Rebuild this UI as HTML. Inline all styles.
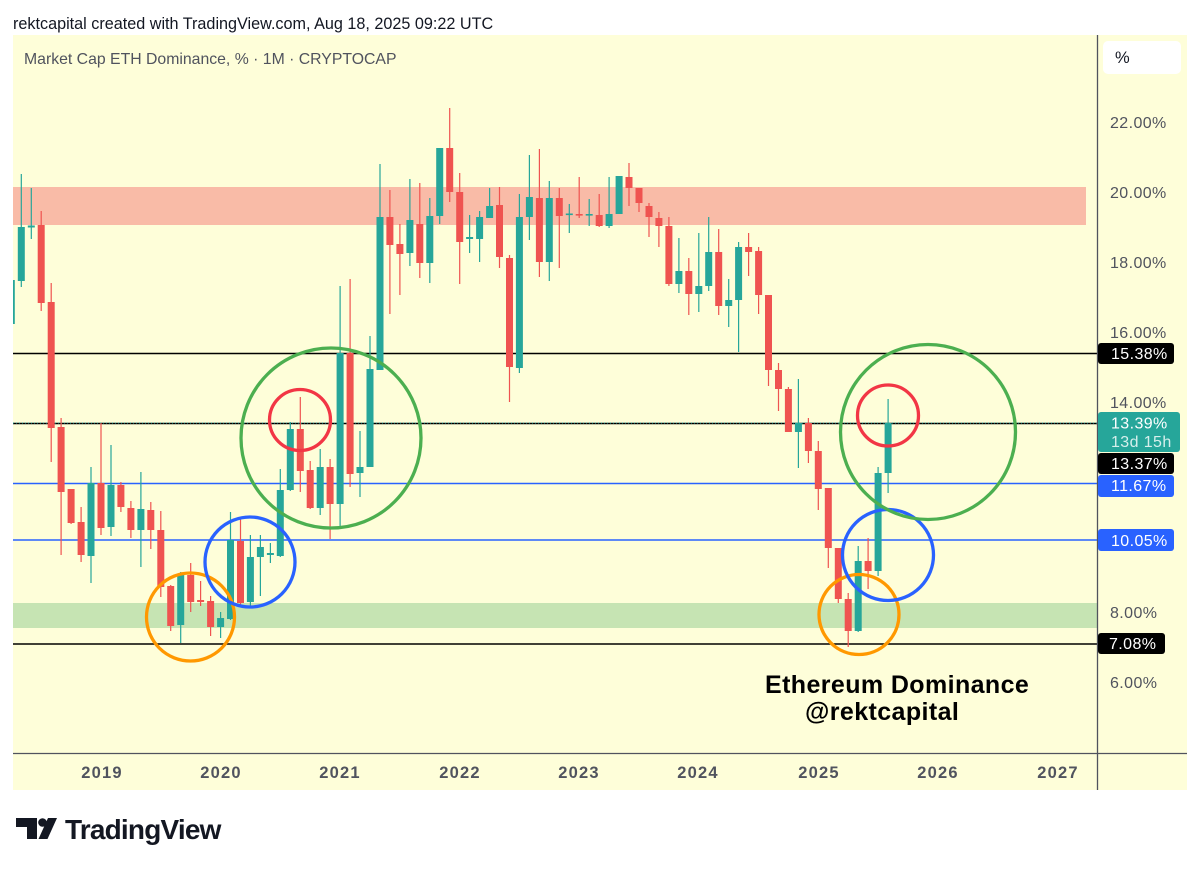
<!DOCTYPE html>
<html><head><meta charset="utf-8"><style>
html,body{margin:0;padding:0;background:#fff;width:1200px;height:869px;overflow:hidden}
svg{position:absolute;left:0;top:0}
</style></head><body>
<svg width="1200" height="869" viewBox="0 0 1200 869" xmlns="http://www.w3.org/2000/svg" font-family="'Liberation Sans', Arial, sans-serif">
<defs><clipPath id="pl"><rect x="13" y="35" width="1084" height="718"/></clipPath></defs>
<text x="13" y="29" font-size="16.2" fill="#131722">rektcapital created with TradingView.com, Aug 18, 2025 09:22 UTC</text>
<rect x="13" y="35" width="1174" height="755" fill="#fefed9"/>
<text x="24" y="64" font-size="15.8" fill="#50535e">Market Cap ETH Dominance, % · 1M · CRYPTOCAP</text>
<g clip-path="url(#pl)">
<rect x="13" y="187" width="1073" height="38" fill="#f9bba7"/>
<rect x="13" y="603" width="1084" height="25" fill="#c6e4b3"/>
<g stroke-width="1.4">
<line x1="13" x2="1097" y1="353.5" y2="353.5" stroke="#000"/>
<line x1="13" x2="1097" y1="423.5" y2="423.5" stroke="#000"/>
<line x1="13" x2="1097" y1="423" y2="423" stroke="#26a69a" stroke-dasharray="1,2" stroke-width="1"/>
<line x1="13" x2="1097" y1="644" y2="644" stroke="#000"/>
<line x1="13" x2="1097" y1="483.5" y2="483.5" stroke="#2962ff"/>
<line x1="13" x2="1097" y1="540" y2="540" stroke="#2962ff"/>
</g>
<g fill="#26a69a">
<rect x="10.7" y="280" width="1.2" height="44"/><rect x="7.8" y="280" width="7" height="44"/>
<rect x="20.7" y="174" width="1.2" height="113"/><rect x="17.8" y="227" width="7" height="54"/>
<rect x="30.7" y="188" width="1.2" height="51"/><rect x="27.8" y="225.5" width="7" height="2"/>
<rect x="90.4" y="467" width="1.2" height="116"/><rect x="87.5" y="483" width="7" height="73"/>
<rect x="110.4" y="445" width="1.2" height="91"/><rect x="107.5" y="485" width="7" height="42"/>
<rect x="140.3" y="472" width="1.2" height="95"/><rect x="137.4" y="509" width="7" height="21"/>
<rect x="180.1" y="572" width="1.2" height="71"/><rect x="177.2" y="574" width="7" height="51"/>
<rect x="220" y="612" width="1.2" height="26"/><rect x="217.1" y="618" width="7" height="9"/>
<rect x="229.9" y="512" width="1.2" height="108"/><rect x="227" y="540" width="7" height="79"/>
<rect x="249.8" y="535" width="1.2" height="72"/><rect x="246.9" y="557" width="7" height="45"/>
<rect x="259.8" y="535" width="1.2" height="61"/><rect x="256.9" y="547" width="7" height="10"/>
<rect x="269.8" y="543" width="1.2" height="20"/><rect x="266.9" y="553" width="7" height="2"/>
<rect x="279.7" y="469" width="1.2" height="88"/><rect x="276.8" y="490" width="7" height="66"/>
<rect x="289.7" y="422" width="1.2" height="69"/><rect x="286.8" y="429" width="7" height="61"/>
<rect x="319.6" y="449" width="1.2" height="66"/><rect x="316.7" y="467" width="7" height="41"/>
<rect x="339.5" y="286" width="1.2" height="241"/><rect x="336.6" y="353" width="7" height="151"/>
<rect x="359.4" y="431" width="1.2" height="66"/><rect x="356.5" y="467" width="7" height="6"/>
<rect x="369.4" y="336" width="1.2" height="131"/><rect x="366.5" y="369" width="7" height="98"/>
<rect x="379.4" y="164" width="1.2" height="206"/><rect x="376.5" y="217" width="7" height="153"/>
<rect x="409.3" y="179" width="1.2" height="87"/><rect x="406.4" y="220" width="7" height="33"/>
<rect x="429.2" y="198" width="1.2" height="85"/><rect x="426.3" y="216" width="7" height="47"/>
<rect x="439.1" y="148" width="1.2" height="76"/><rect x="436.2" y="148" width="7" height="68"/>
<rect x="469" y="215" width="1.2" height="38"/><rect x="466.1" y="237" width="7" height="2"/>
<rect x="479" y="211" width="1.2" height="51"/><rect x="476.1" y="217" width="7" height="22"/>
<rect x="489" y="188" width="1.2" height="30"/><rect x="486.1" y="206" width="7" height="12"/>
<rect x="518.8" y="194" width="1.2" height="179"/><rect x="515.9" y="217" width="7" height="151"/>
<rect x="528.8" y="155" width="1.2" height="85"/><rect x="525.9" y="197" width="7" height="20"/>
<rect x="548.7" y="181" width="1.2" height="100"/><rect x="545.8" y="198" width="7" height="64"/>
<rect x="568.7" y="204" width="1.2" height="29"/><rect x="565.8" y="213.5" width="7" height="1.6"/>
<rect x="588.6" y="199" width="1.2" height="27"/><rect x="585.7" y="214" width="7" height="1.6"/>
<rect x="608.5" y="177" width="1.2" height="51"/><rect x="605.6" y="214" width="7" height="12"/>
<rect x="618.5" y="176" width="1.2" height="38"/><rect x="615.6" y="176" width="7" height="38"/>
<rect x="678.3" y="238" width="1.2" height="55"/><rect x="675.4" y="271" width="7" height="13"/>
<rect x="698.2" y="233" width="1.2" height="79"/><rect x="695.3" y="286" width="7" height="8"/>
<rect x="708.1" y="217" width="1.2" height="74"/><rect x="705.2" y="252" width="7" height="34"/>
<rect x="728.1" y="279" width="1.2" height="48"/><rect x="725.2" y="300" width="7" height="6"/>
<rect x="738" y="242" width="1.2" height="110"/><rect x="735.1" y="247" width="7" height="53"/>
<rect x="797.8" y="379" width="1.2" height="89"/><rect x="794.9" y="423" width="7" height="9"/>
<rect x="857.6" y="546" width="1.2" height="86"/><rect x="854.7" y="561" width="7" height="70"/>
<rect x="877.5" y="467" width="1.2" height="109"/><rect x="874.6" y="473" width="7" height="98"/>
<rect x="887.5" y="399" width="1.2" height="94"/><rect x="884.6" y="423" width="7" height="50"/>
</g>
<g fill="#ef5350">
<rect x="40.6" y="211" width="1.2" height="100"/><rect x="37.7" y="225" width="7" height="78"/>
<rect x="50.6" y="283" width="1.2" height="179"/><rect x="47.7" y="302" width="7" height="126"/>
<rect x="60.5" y="418" width="1.2" height="137"/><rect x="57.6" y="427" width="7" height="65"/>
<rect x="70.5" y="489" width="1.2" height="35"/><rect x="67.6" y="489" width="7" height="34"/>
<rect x="80.5" y="507" width="1.2" height="55"/><rect x="77.6" y="522" width="7" height="33"/>
<rect x="100.4" y="423" width="1.2" height="112"/><rect x="97.5" y="483" width="7" height="45"/>
<rect x="120.3" y="482" width="1.2" height="30"/><rect x="117.4" y="485" width="7" height="22"/>
<rect x="130.3" y="501" width="1.2" height="37"/><rect x="127.4" y="508" width="7" height="22"/>
<rect x="150.2" y="502" width="1.2" height="47"/><rect x="147.3" y="510" width="7" height="20"/>
<rect x="160.2" y="511" width="1.2" height="86"/><rect x="157.3" y="530" width="7" height="57"/>
<rect x="170.1" y="585" width="1.2" height="46"/><rect x="167.2" y="586" width="7" height="40"/>
<rect x="190.1" y="563" width="1.2" height="49"/><rect x="187.2" y="575" width="7" height="27"/>
<rect x="200" y="581" width="1.2" height="25"/><rect x="197.1" y="600" width="7" height="2"/>
<rect x="210" y="596" width="1.2" height="40"/><rect x="207.1" y="601" width="7" height="26"/>
<rect x="239.9" y="518" width="1.2" height="88"/><rect x="237" y="541" width="7" height="62"/>
<rect x="299.7" y="397" width="1.2" height="95"/><rect x="296.8" y="429" width="7" height="42"/>
<rect x="309.6" y="461" width="1.2" height="48"/><rect x="306.7" y="470" width="7" height="38"/>
<rect x="329.5" y="459" width="1.2" height="80"/><rect x="326.6" y="467" width="7" height="37"/>
<rect x="349.5" y="279" width="1.2" height="208"/><rect x="346.6" y="353" width="7" height="121"/>
<rect x="389.3" y="190" width="1.2" height="124"/><rect x="386.4" y="217" width="7" height="28"/>
<rect x="399.3" y="224" width="1.2" height="71"/><rect x="396.4" y="244" width="7" height="10"/>
<rect x="419.2" y="183" width="1.2" height="95"/><rect x="416.3" y="224" width="7" height="39"/>
<rect x="449.1" y="108" width="1.2" height="94"/><rect x="446.2" y="148" width="7" height="44"/>
<rect x="459.1" y="173" width="1.2" height="111"/><rect x="456.2" y="192" width="7" height="50"/>
<rect x="498.9" y="187" width="1.2" height="81"/><rect x="496" y="205" width="7" height="52"/>
<rect x="508.9" y="255" width="1.2" height="147"/><rect x="506" y="258" width="7" height="109"/>
<rect x="538.8" y="149" width="1.2" height="128"/><rect x="535.9" y="198" width="7" height="64"/>
<rect x="558.7" y="188" width="1.2" height="80"/><rect x="555.8" y="198" width="7" height="18"/>
<rect x="578.6" y="177" width="1.2" height="41"/><rect x="575.7" y="214" width="7" height="1.6"/>
<rect x="598.6" y="194" width="1.2" height="33"/><rect x="595.7" y="215" width="7" height="11"/>
<rect x="628.4" y="163" width="1.2" height="43"/><rect x="625.5" y="177" width="7" height="11"/>
<rect x="638.4" y="188" width="1.2" height="24"/><rect x="635.5" y="188" width="7" height="15"/>
<rect x="648.4" y="203" width="1.2" height="34"/><rect x="645.5" y="206" width="7" height="11"/>
<rect x="658.3" y="212" width="1.2" height="35"/><rect x="655.4" y="218" width="7" height="8"/>
<rect x="668.3" y="217" width="1.2" height="69"/><rect x="665.4" y="226" width="7" height="58"/>
<rect x="688.2" y="258" width="1.2" height="57"/><rect x="685.3" y="271" width="7" height="23"/>
<rect x="718.1" y="229" width="1.2" height="86"/><rect x="715.2" y="252" width="7" height="54"/>
<rect x="748" y="233" width="1.2" height="43"/><rect x="745.1" y="247" width="7" height="5"/>
<rect x="758" y="247" width="1.2" height="67"/><rect x="755.1" y="251" width="7" height="44"/>
<rect x="767.9" y="295" width="1.2" height="91"/><rect x="765" y="295" width="7" height="75"/>
<rect x="777.9" y="363" width="1.2" height="48"/><rect x="775" y="370" width="7" height="19"/>
<rect x="787.8" y="387" width="1.2" height="45"/><rect x="784.9" y="389" width="7" height="43"/>
<rect x="807.8" y="418" width="1.2" height="45"/><rect x="804.9" y="423" width="7" height="28"/>
<rect x="817.7" y="441" width="1.2" height="69"/><rect x="814.8" y="451" width="7" height="38"/>
<rect x="827.7" y="488" width="1.2" height="80"/><rect x="824.8" y="488" width="7" height="60"/>
<rect x="837.7" y="548" width="1.2" height="55"/><rect x="834.8" y="548" width="7" height="51"/>
<rect x="847.6" y="593" width="1.2" height="54"/><rect x="844.7" y="599" width="7" height="32"/>
<rect x="867.5" y="538" width="1.2" height="51"/><rect x="864.6" y="561" width="7" height="10"/>
</g>
<g fill="none" stroke-width="3.3">
<circle cx="190.5" cy="617" r="44" stroke="#ff9800"/>
<circle cx="250" cy="562" r="45" stroke="#2962ff"/>
<circle cx="331" cy="438" r="90" stroke="#4caf50"/>
<circle cx="300" cy="420" r="30.5" stroke="#f23645"/>
<circle cx="859" cy="614.5" r="40" stroke="#ff9800"/>
<circle cx="888" cy="555" r="45.5" stroke="#2962ff"/>
<circle cx="928" cy="432" r="87.5" stroke="#4caf50"/>
<circle cx="888" cy="415.5" r="30.5" stroke="#f23645"/>
</g>
<text x="765" y="693" font-size="25" font-weight="bold" letter-spacing="0.4" fill="#000">Ethereum Dominance</text>
<text x="805" y="720" font-size="25" font-weight="bold" letter-spacing="0.4" fill="#000">@rektcapital</text>
</g>
<line x1="1097.5" x2="1097.5" y1="35" y2="790" stroke="#50535e" stroke-width="1.3"/>
<line x1="13" x2="1187" y1="753.5" y2="753.5" stroke="#50535e" stroke-width="1.3"/>
<rect x="1103" y="41" width="78" height="33" rx="5" fill="#fff"/>
<text x="1115" y="63" font-size="16.5" fill="#131722">%</text>
<g font-size="16" fill="#50535e" letter-spacing="0.4">
<text x="1110" y="128">22.00%</text>
<text x="1110" y="198">20.00%</text>
<text x="1110" y="268">18.00%</text>
<text x="1110" y="338">16.00%</text>
<text x="1110" y="408">14.00%</text>
<text x="1110" y="618">8.00%</text>
<text x="1110" y="688">6.00%</text>
</g>
<rect x="1098" y="343" width="76" height="21" rx="3" fill="#000"/>
<rect x="1098" y="412" width="82" height="40" rx="3" fill="#26a69a"/>
<rect x="1098" y="453" width="76" height="21" rx="3" fill="#000"/>
<rect x="1098" y="475" width="76" height="22" rx="3" fill="#2962ff"/>
<rect x="1098" y="529" width="76" height="22" rx="3" fill="#2962ff"/>
<rect x="1098" y="633" width="67" height="21" rx="3" fill="#000"/>
<g font-size="16" fill="#fff" letter-spacing="0.4">
<text x="1111" y="359">15.38%</text>
<text x="1111" y="428.5">13.39%</text>
<text x="1111" y="447" fill="#d6efec">13d 15h</text>
<text x="1111" y="469">13.37%</text>
<text x="1111" y="491">11.67%</text>
<text x="1111" y="546">10.05%</text>
<text x="1109" y="649">7.08%</text>
</g>
<g font-size="16.5" font-weight="bold" fill="#50535e" text-anchor="middle" letter-spacing="1.2">
<text x="102" y="778">2019</text>
<text x="221" y="778">2020</text>
<text x="340" y="778">2021</text>
<text x="460" y="778">2022</text>
<text x="579" y="778">2023</text>
<text x="698" y="778">2024</text>
<text x="819" y="778">2025</text>
<text x="938" y="778">2026</text>
<text x="1058" y="778">2027</text>
</g>
<g fill="#131722">
<path d="M16 818 H37 V839 H27 V827 H16 Z"/>
<circle cx="42.5" cy="822.5" r="4.3"/>
<path d="M48 818 H57 L47.5 839 H38.5 Z"/>
</g>
<text x="65" y="839" font-size="28" font-weight="bold" letter-spacing="-0.8" fill="#131722">TradingView</text>
</svg>
</body></html>
